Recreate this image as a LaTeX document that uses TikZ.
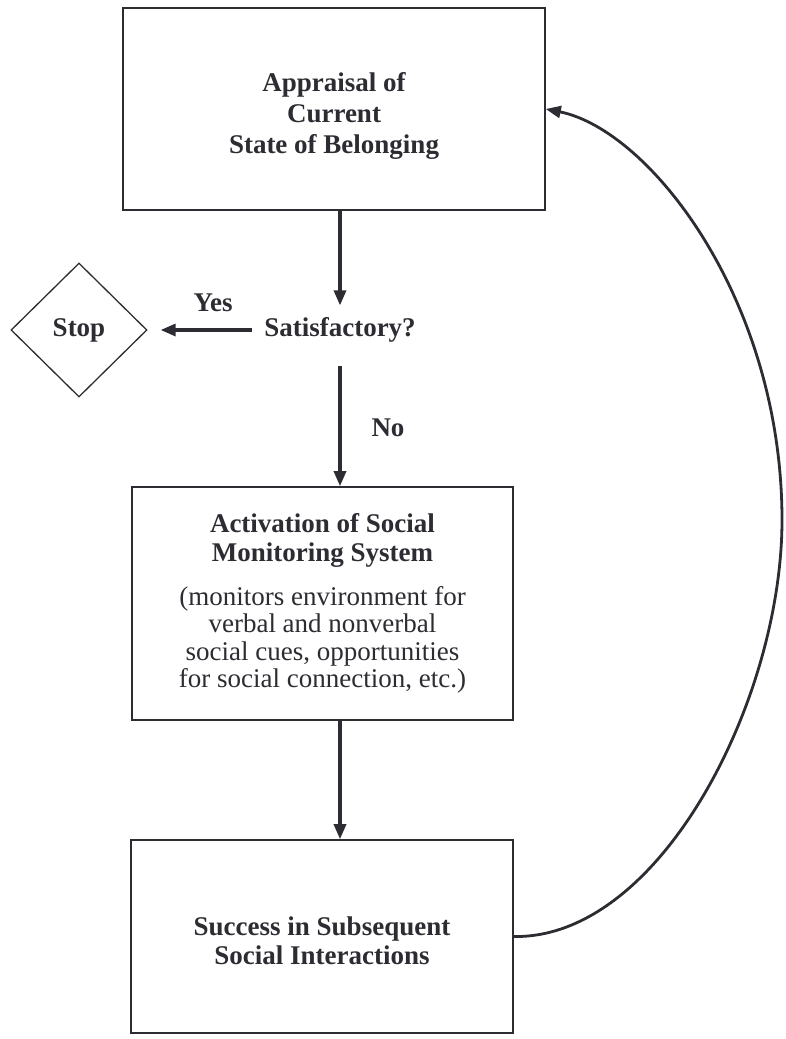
\documentclass[tikz,border=0pt]{standalone}
\usepackage{fontspec}
\setmainfont{Liberation Serif}
\usetikzlibrary{arrows.meta,shapes.geometric}
\definecolor{inkgray}{RGB}{44,44,50}

\begin{document}
\begin{tikzpicture}[
    x=1pt, y=-1pt,
    stage/.style={draw=inkgray, line width=1.6pt, text=inkgray, inner sep=0pt, align=center, font=\fontsize{27}{31}\selectfont\bfseries},
    tag/.style={text=inkgray, font=\fontsize{27}{31}\selectfont\bfseries},
    flow/.style={draw=inkgray, line width=3.2pt, -{Triangle[length=15pt,width=12pt]}}
]
\useasboundingbox (0,0) rectangle (785,1039);

\node[stage, minimum width=422pt, minimum height=202pt] (appraisal) at (334,109) {\rule{0pt}{33pt}Appraisal of\\ Current\\ State of Belonging};
\node[tag, inner sep=12pt] (satq) at (340,330) {Satisfactory?};
\node[stage, shape=diamond, minimum width=136pt, minimum height=134pt, line width=1.3pt] (stop) at (79,330) {Stop};
\node[stage, minimum width=381pt, minimum height=233pt, font=\fontsize{27}{29}\selectfont\bfseries] (monitor) at (322.5,603.5) {Activation of Social\\ Monitoring System\\[15pt]
    \mdseries (monitors environment for\\[-1.5pt] \mdseries verbal and nonverbal\\[-1.5pt] \mdseries social cues, opportunities\\[-1.5pt] \mdseries for social connection, etc.)};
\node[stage, minimum width=382pt, minimum height=193pt, font=\fontsize{27}{29}\selectfont\bfseries] (success) at (322,936.5) {\rule{0pt}{28pt}Success in Subsequent\\ Social Interactions};

\node[tag] (yes) at (213,303) {Yes};
\node[tag] (no) at (388,428) {No};

\draw[flow] (appraisal.south -| satq) -- (satq.north);
\draw[flow, shorten >=13pt] (satq.west) -- (stop.east);
\draw[flow, shorten <=11pt] (satq.south) -- (satq.south |- monitor.north);
\draw[flow] (monitor.south -| satq) -- (satq |- success.north);
% feedback loop
\draw[flow, line width=2.8pt] (success.east) .. controls (660,939) and (782,700) .. (782,520)
    .. controls (782,300) and (650,130) .. (appraisal.east);
\end{tikzpicture}
\end{document}
